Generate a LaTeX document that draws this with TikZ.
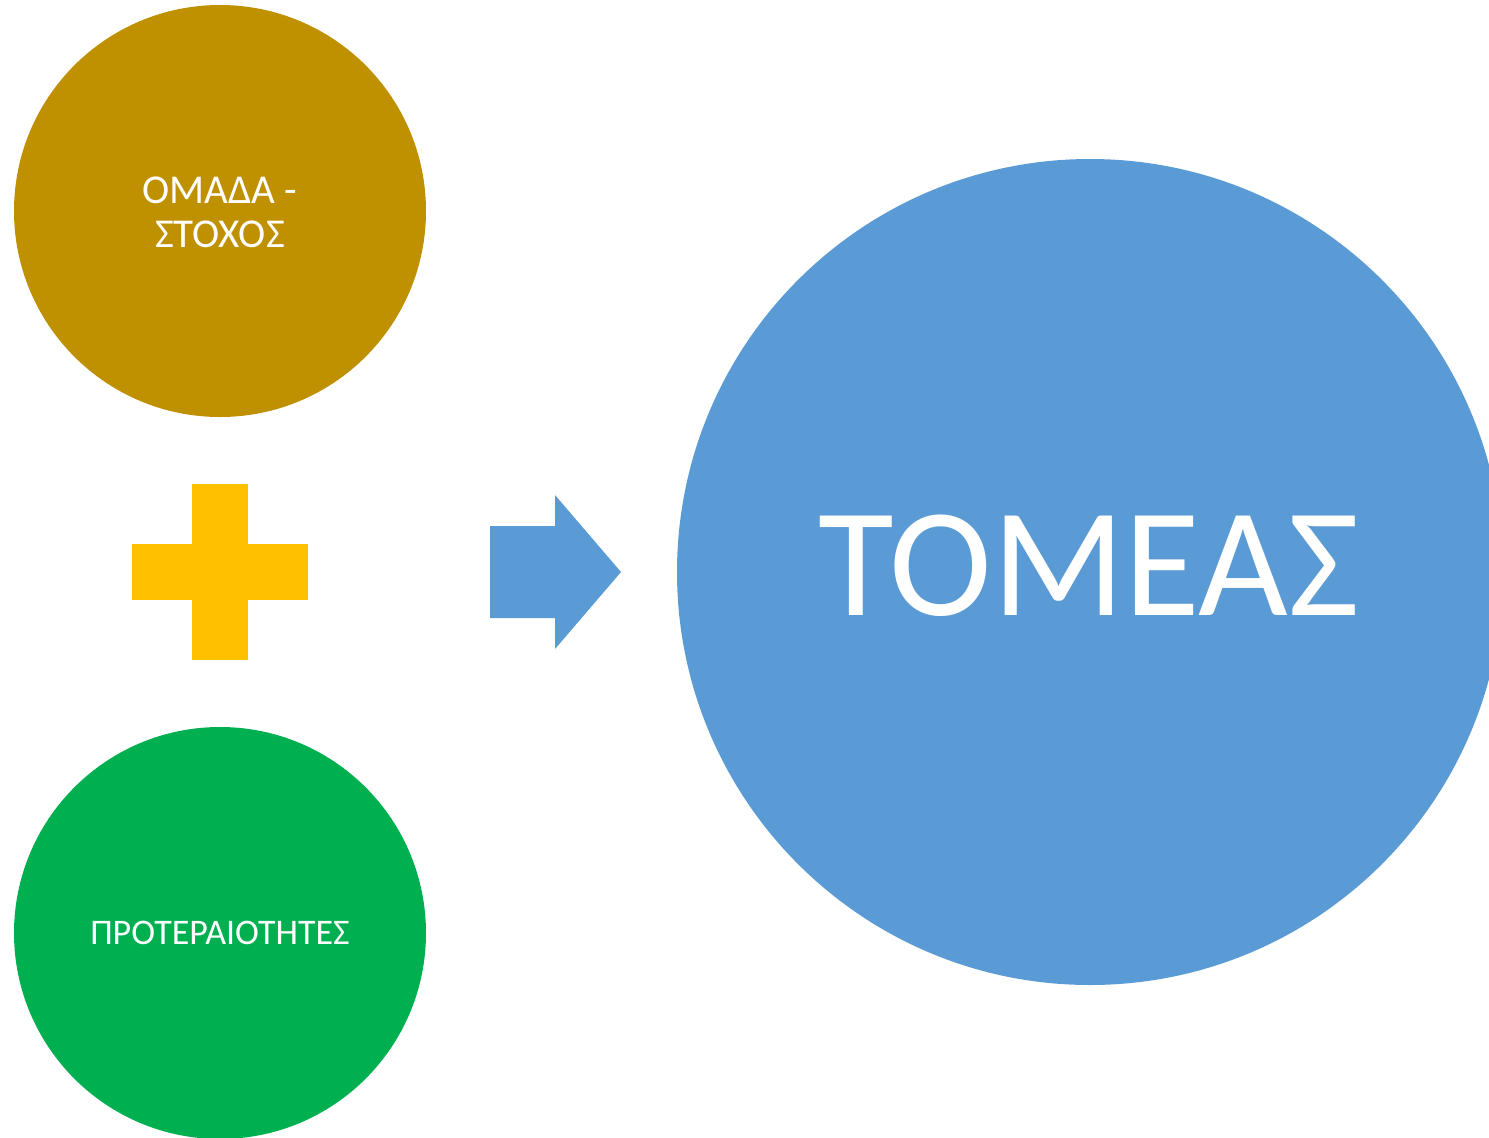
\documentclass[tikz,border=0pt]{standalone}
\usepackage{fontspec}
\setmainfont{Carlito}
\definecolor{goldc}{HTML}{BF9000}
\definecolor{plusc}{HTML}{FFC000}
\definecolor{greenc}{HTML}{00B050}
\definecolor{bluec}{HTML}{5B9BD5}
\begin{document}
\begin{tikzpicture}[x=1pt,y=-1pt,
  label/.style={text=white,align=center,inner sep=0pt}]
\useasboundingbox (0,0) rectangle (1489,1138);
\clip (0,0) rectangle (1489,1138);
% top circle
\fill[goldc] (220,211) circle[radius=206];
\node[label,font=\fontsize{41}{44}\selectfont] (top) at (220,212) {ΟΜΑΔΑ -\\ΣΤΟΧΟΣ};
% plus
\fill[plusc] (192,484) rectangle (248,660);
\fill[plusc] (132,544) rectangle (308,600);
\coordinate (plus) at (220,572);
% bottom circle
\fill[greenc] (220,933) circle[radius=206];
\node[label,font=\fontsize{36}{40}\selectfont] (bot) at (220,933) {ΠΡΟΤΕΡΑΙΟΤΗΤΕΣ};
% arrow
\fill[bluec] (490,526) -- (555,526) -- (555,495) -- (621,572) -- (555,649) -- (555,618) -- (490,618) -- cycle;
% big circle
\fill[bluec] (1090,572) circle[radius=413];
\node[label,font=\fontsize{155}{160}\selectfont] (big) at (1089,566) {ΤΟΜΕΑΣ};
\end{tikzpicture}
\end{document}
